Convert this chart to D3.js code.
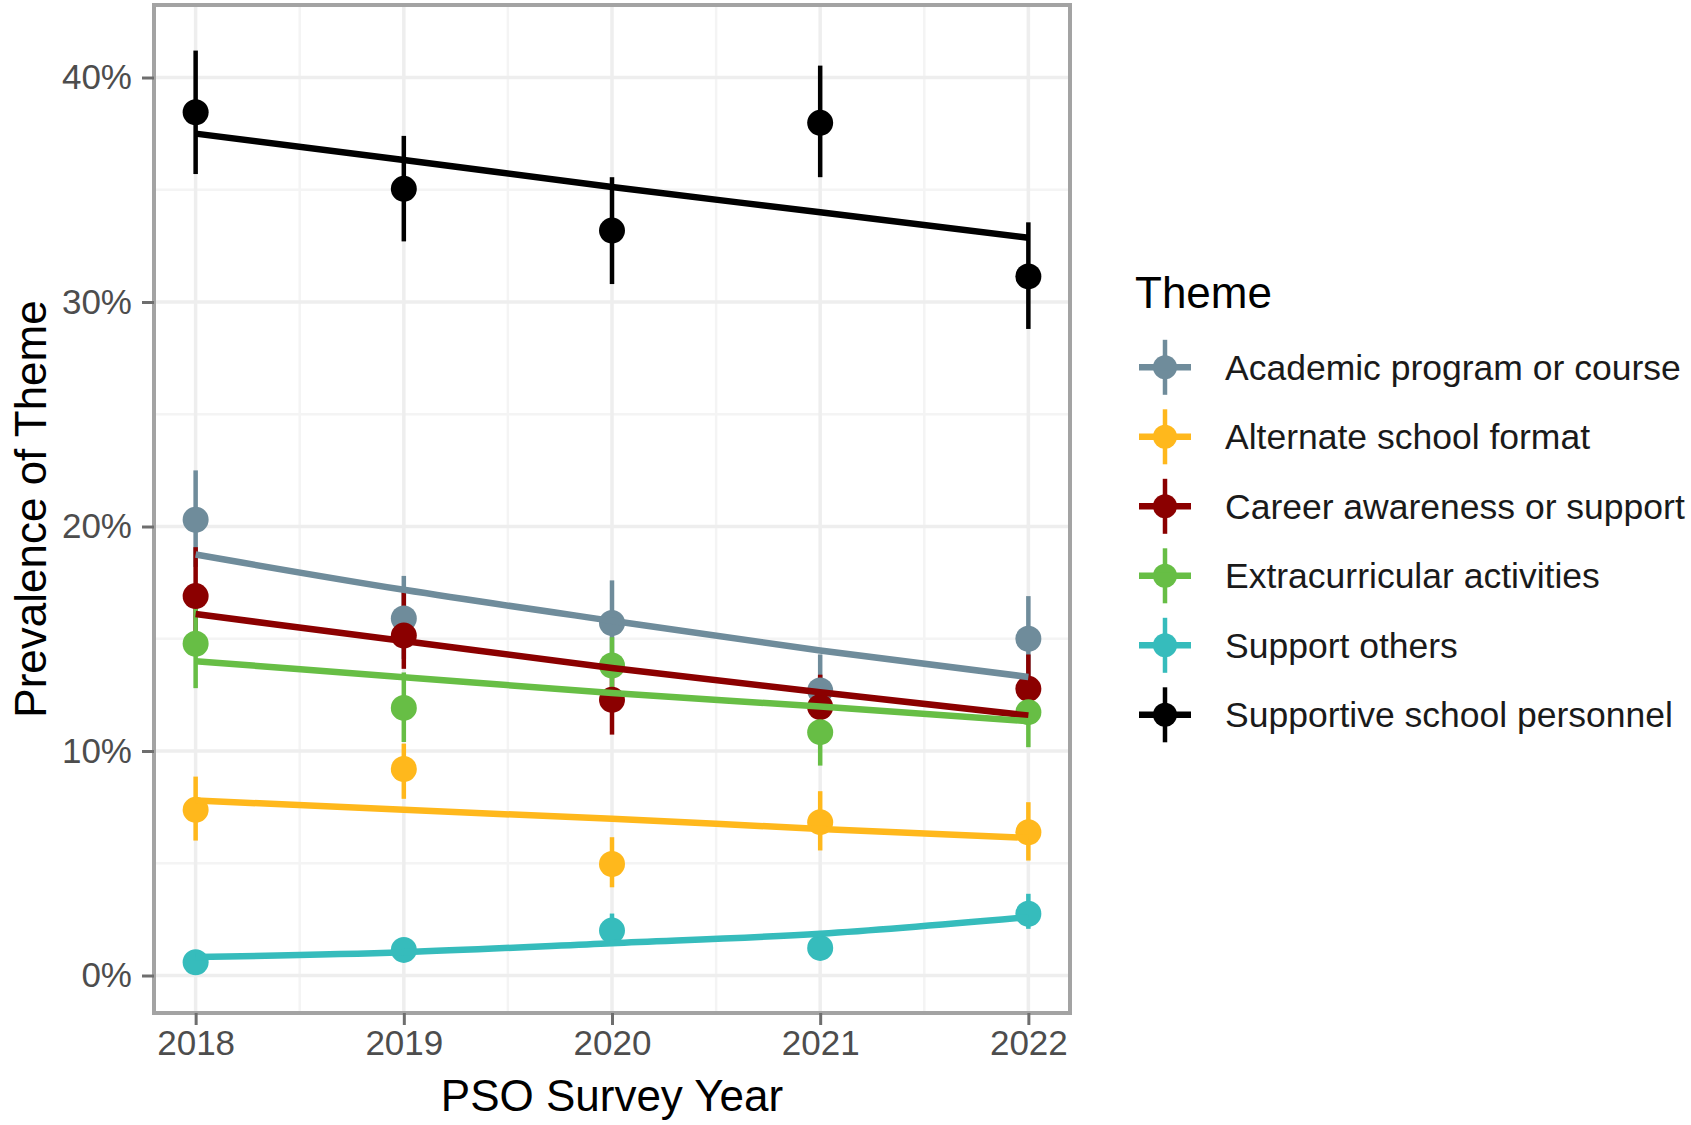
<!DOCTYPE html>
<html>
<head>
<meta charset="utf-8">
<script src="https://cdn.jsdelivr.net/npm/d3@7"></script>
<style>
  body { margin: 0; background: #fff; }
  svg { display: block; font-family: "Liberation Sans", Arial, Helvetica, sans-serif; }
</style>
</head>
<body>
<svg id="chart" width="1691" height="1125"></svg>
<script>
// Survey years and axis ticks
const years = [2018, 2019, 2020, 2021, 2022];
const yTicks = [0, 0.1, 0.2, 0.3, 0.4];
const yMinorTicks = [0.05, 0.15, 0.25, 0.35];
const xMinorTicks = [2018.5, 2019.5, 2020.5, 2021.5];

// Themes (legend order) and their colours
const themes = [
  "Academic program or course",
  "Alternate school format",
  "Career awareness or support",
  "Extracurricular activities",
  "Support others",
  "Supportive school personnel"
];
const themeColors = ["#6F8C9B", "#FFB81C", "#8B0000", "#67BE45", "#36BCBC", "#000000"];

// Observed prevalence, interval bounds and fitted trend, per theme
const academicEst  = [0.203, 0.159, 0.157, 0.127, 0.150];
const academicLow  = [0.182, 0.141, 0.139, 0.111, 0.132];
const academicHigh = [0.225, 0.178, 0.176, 0.143, 0.169];
const academicFit  = [0.1875, 0.1718, 0.1580, 0.1448, 0.1330];

const alternateEst  = [0.0738, 0.0920, 0.0497, 0.0683, 0.0638];
const alternateLow  = [0.0601, 0.0787, 0.0393, 0.0557, 0.0512];
const alternateHigh = [0.0886, 0.1033, 0.0616, 0.0821, 0.0772];
const alternateFit  = [0.0780, 0.0738, 0.0698, 0.0653, 0.0613];

const careerEst  = [0.169, 0.1514, 0.1228, 0.1196, 0.1277];
const careerLow  = [0.148, 0.1366, 0.1073, 0.1040, 0.1130];
const careerHigh = [0.1908, 0.1707, 0.1380, 0.1340, 0.1430];
const careerFit  = [0.161, 0.149, 0.137, 0.1262, 0.1158];

const extraEst  = [0.1478, 0.1192, 0.1381, 0.1084, 0.1173];
const extraLow  = [0.128, 0.104, 0.125, 0.0935, 0.1017];
const extraHigh = [0.167, 0.135, 0.1507, 0.124, 0.133];
const extraFit  = [0.140, 0.1329, 0.1258, 0.1198, 0.1133];

const othersEst  = [0.0059, 0.0114, 0.0200, 0.0123, 0.0275];
const othersLow  = [0.0030, 0.0080, 0.0135, 0.0085, 0.0208];
const othersHigh = [0.0090, 0.0150, 0.0276, 0.0165, 0.0364];
const othersFit  = [0.0082, 0.0104, 0.0144, 0.0186, 0.0260];

const personnelEst  = [0.3845, 0.3504, 0.3318, 0.3798, 0.3114];
const personnelLow  = [0.357, 0.327, 0.308, 0.3556, 0.288];
const personnelHigh = [0.412, 0.374, 0.3556, 0.4053, 0.3355];
const personnelFit  = [0.375, 0.3633, 0.3512, 0.340, 0.3286];

const estimates = [academicEst, alternateEst, careerEst, extraEst, othersEst, personnelEst];
const lows = [academicLow, alternateLow, careerLow, extraLow, othersLow, personnelLow];
const highs = [academicHigh, alternateHigh, careerHigh, extraHigh, othersHigh, personnelHigh];
const fits = [academicFit, alternateFit, careerFit, extraFit, othersFit, personnelFit];

const series = themes.map((name, i) => ({
  name,
  color: themeColors[i],
  points: years.map((yr, j) => ({ year: yr, est: estimates[i][j], low: lows[i][j], high: highs[i][j], fit: fits[i][j] }))
}));

// Layout
const panel = { left: 154, right: 1070, top: 5, bottom: 1013 };
const svg = d3.select("#chart");

const x = d3.scaleLinear().domain([2017.8, 2022.2]).range([panel.left, panel.right]);
const y = d3.scaleLinear().domain([-0.0167, 0.4323]).range([panel.bottom, panel.top]);

svg.append("rect").attr("width", 1691).attr("height", 1125).attr("fill", "#fff");

// Grid
const grid = svg.append("g");
grid.selectAll(".ymin").data(yMinorTicks).join("line")
  .attr("x1", panel.left).attr("x2", panel.right)
  .attr("y1", d => y(d)).attr("y2", d => y(d))
  .attr("stroke", "#F4F4F4").attr("stroke-width", 2.5);
grid.selectAll(".xmin").data(xMinorTicks).join("line")
  .attr("y1", panel.top).attr("y2", panel.bottom)
  .attr("x1", d => x(d)).attr("x2", d => x(d))
  .attr("stroke", "#F4F4F4").attr("stroke-width", 2.5);
grid.selectAll(".ymaj").data(yTicks).join("line")
  .attr("x1", panel.left).attr("x2", panel.right)
  .attr("y1", d => y(d)).attr("y2", d => y(d))
  .attr("stroke", "#EEEEEE").attr("stroke-width", 3.5);
grid.selectAll(".xmaj").data(years).join("line")
  .attr("y1", panel.top).attr("y2", panel.bottom)
  .attr("x1", d => x(d)).attr("x2", d => x(d))
  .attr("stroke", "#EEEEEE").attr("stroke-width", 3.5);

// Interval bars
const bars = svg.append("g");
series.forEach(s => {
  bars.selectAll(null).data(s.points).join("line")
    .attr("x1", d => x(d.year)).attr("x2", d => x(d.year))
    .attr("y1", d => y(d.low)).attr("y2", d => y(d.high))
    .attr("stroke", s.color).attr("stroke-width", 4.5);
});

// Observed points
const dots = svg.append("g");
series.forEach(s => {
  dots.selectAll(null).data(s.points).join("circle")
    .attr("cx", d => x(d.year)).attr("cy", d => y(d.est))
    .attr("r", 13).attr("fill", s.color);
});

// Fitted trend lines
const trend = d3.line().x(d => x(d.year)).y(d => y(d.fit)).curve(d3.curveMonotoneX);
const lines = svg.append("g");
series.forEach(s => {
  lines.append("path").datum(s.points)
    .attr("d", trend).attr("fill", "none")
    .attr("stroke", s.color).attr("stroke-width", 6.5)
    .attr("stroke-linecap", "butt");
});

// Panel border
svg.append("rect")
  .attr("x", panel.left).attr("y", panel.top)
  .attr("width", panel.right - panel.left).attr("height", panel.bottom - panel.top)
  .attr("fill", "none").attr("stroke", "#A3A3A3").attr("stroke-width", 4);

// Axes
const yAxis = d3.axisLeft(y).tickValues(yTicks).tickFormat(d3.format(".0%")).tickSize(12).tickPadding(10);
const gy = svg.append("g").attr("transform", `translate(${panel.left},0)`).call(yAxis);
const xAxis = d3.axisBottom(x).tickValues(years).tickFormat(d3.format("d")).tickSize(12).tickPadding(5);
const gx = svg.append("g").attr("transform", `translate(0,${panel.bottom})`).call(xAxis);
[gx, gy].forEach(g => {
  g.select(".domain").remove();
  g.selectAll(".tick line").attr("stroke", "#6E6E6E").attr("stroke-width", 3);
  g.selectAll(".tick text").attr("fill", "#4D4D4D").style("font-size", "35px")
    .style("font-family", '"Liberation Sans", Arial, Helvetica, sans-serif');
});

// Axis titles
svg.append("text")
  .attr("x", (panel.left + panel.right) / 2).attr("y", 1111)
  .attr("text-anchor", "middle").style("font-size", "44px").attr("fill", "#000")
  .text("PSO Survey Year");
svg.append("text")
  .attr("transform", `translate(46,${(panel.top + panel.bottom) / 2}) rotate(-90)`)
  .attr("text-anchor", "middle").style("font-size", "44px").attr("fill", "#000")
  .text("Prevalence of Theme");

// Legend
const legend = svg.append("g");
legend.append("text").attr("x", 1135).attr("y", 308)
  .style("font-size", "44px").attr("fill", "#000").text("Theme");
const keyX = 1165, keyY0 = 367.3, keyStep = 69.5;
series.forEach((s, i) => {
  const cy = keyY0 + i * keyStep;
  const k = legend.append("g");
  k.append("line").attr("x1", keyX).attr("x2", keyX).attr("y1", cy - 27.5).attr("y2", cy + 27.5)
    .attr("stroke", s.color).attr("stroke-width", 4.5);
  k.append("circle").attr("cx", keyX).attr("cy", cy).attr("r", 12).attr("fill", s.color);
  k.append("line").attr("x1", keyX - 26).attr("x2", keyX + 26).attr("y1", cy).attr("y2", cy)
    .attr("stroke", s.color).attr("stroke-width", 6.5);
  k.append("text").attr("x", 1225).attr("y", cy + 12.5)
    .style("font-size", "35.5px").attr("fill", "#1A1A1A").text(s.name);
});
</script>
</body>
</html>
